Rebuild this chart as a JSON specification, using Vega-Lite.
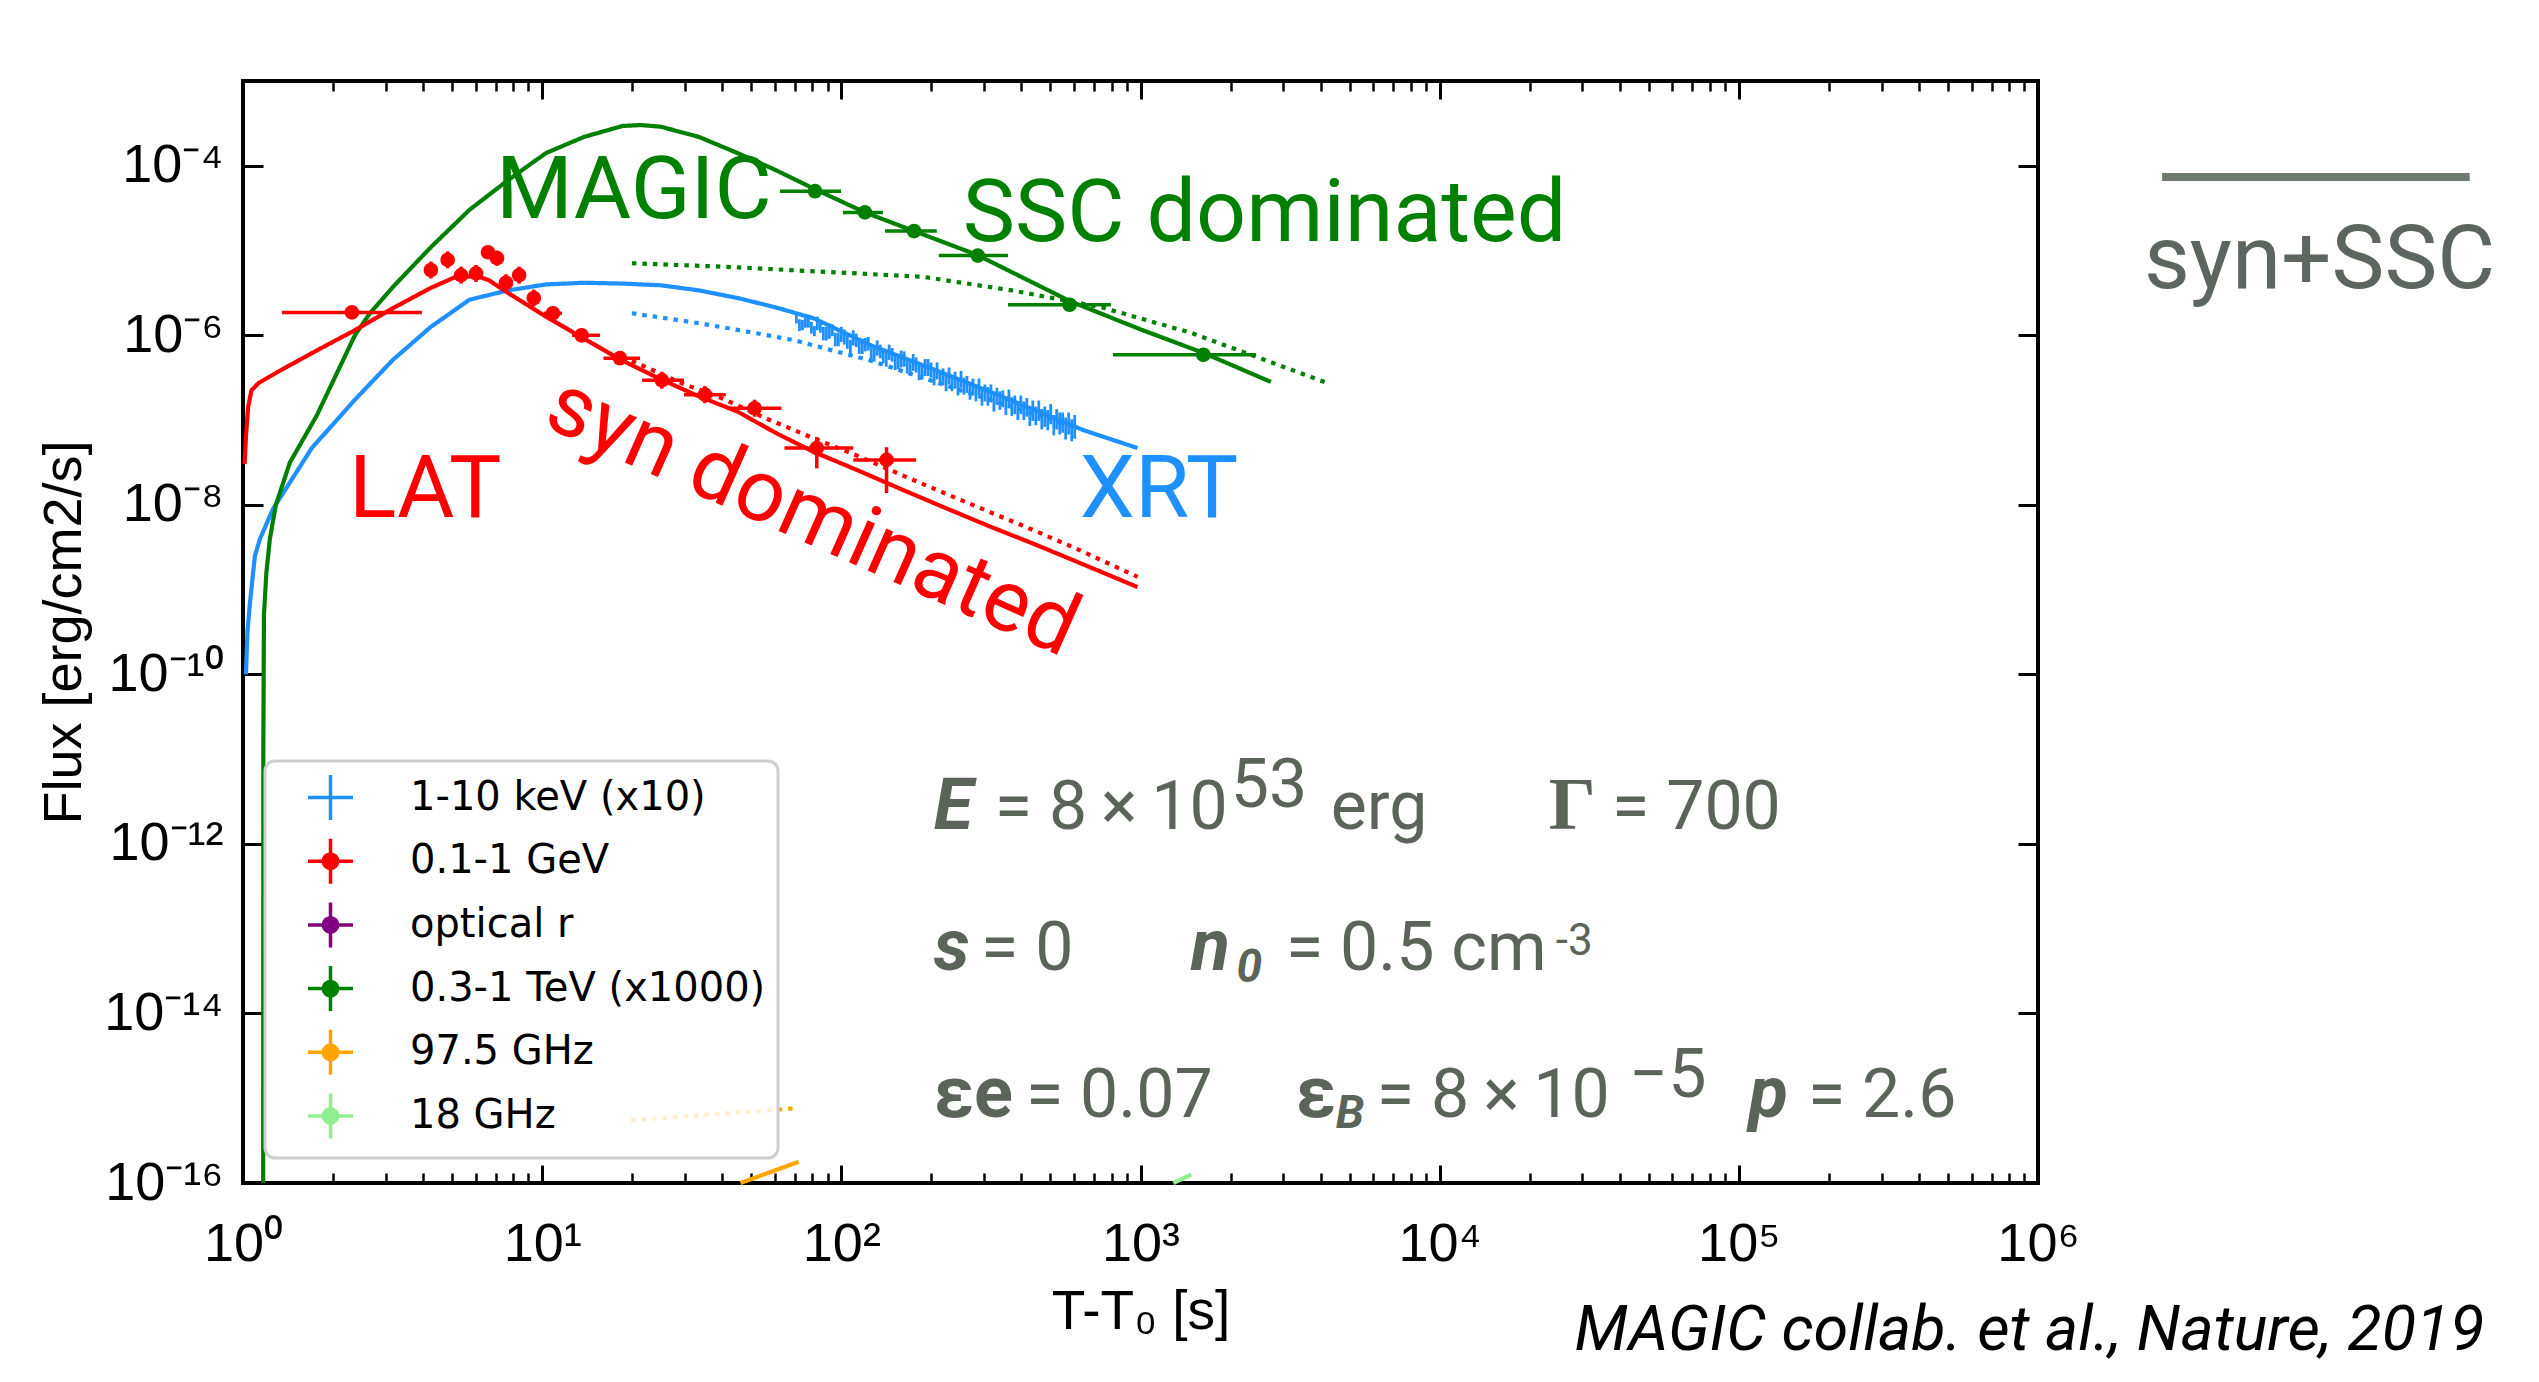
{
"$schema":"https://vega.github.io/schema/vega-lite/v6.json",
"width":1795,"height":1102,
"autosize":{"type":"none"},
"padding":{"left":243,"top":81,"right":501,"bottom":199},
"background":"white",
"config":{"view":{"stroke":"black","strokeWidth":4},"font":"Roboto"},
"resolve":{"axis":{"x":"independent","y":"independent"}},
"datasets":{
"models":[
{"band":"1-10 keV (x10)","curve":"model","t":1.023,"f":1e-10},
{"band":"1-10 keV (x10)","curve":"model","t":1.035,"f":3.162e-10},
{"band":"1-10 keV (x10)","curve":"model","t":1.054,"f":6.761e-10},
{"band":"1-10 keV (x10)","curve":"model","t":1.096,"f":2.512e-9},
{"band":"1-10 keV (x10)","curve":"model","t":1.140,"f":3.981e-9},
{"band":"1-10 keV (x10)","curve":"model","t":1.259,"f":8.913e-9},
{"band":"1-10 keV (x10)","curve":"model","t":1.698,"f":4.677e-8},
{"band":"1-10 keV (x10)","curve":"model","t":2.366,"f":1.738e-7},
{"band":"1-10 keV (x10)","curve":"model","t":3.170,"f":5.129e-7},
{"band":"1-10 keV (x10)","curve":"model","t":4.247,"f":1.259e-6},
{"band":"1-10 keV (x10)","curve":"model","t":5.715,"f":2.630e-6},
{"band":"1-10 keV (x10)","curve":"model","t":7.691,"f":3.388e-6},
{"band":"1-10 keV (x10)","curve":"model","t":10.30,"f":3.981e-6},
{"band":"1-10 keV (x10)","curve":"model","t":13.80,"f":4.169e-6},
{"band":"1-10 keV (x10)","curve":"model","t":18.58,"f":4.074e-6},
{"band":"1-10 keV (x10)","curve":"model","t":24.95,"f":3.890e-6},
{"band":"1-10 keV (x10)","curve":"model","t":33.42,"f":3.388e-6},
{"band":"1-10 keV (x10)","curve":"model","t":44.98,"f":2.754e-6},
{"band":"1-10 keV (x10)","curve":"model","t":60.26,"f":2.138e-6},
{"band":"1-10 keV (x10)","curve":"model","t":80.91,"f":1.585e-6},
{"band":"1-10 keV (x10)","curve":"model","t":125.9,"f":7.586e-7},
{"band":"1-10 keV (x10)","curve":"model","t":199.5,"f":4.074e-7},
{"band":"1-10 keV (x10)","curve":"model","t":316.2,"f":2.138e-7},
{"band":"1-10 keV (x10)","curve":"model","t":501.2,"f":1.096e-7},
{"band":"1-10 keV (x10)","curve":"model","t":645.7,"f":7.586e-8},
{"band":"1-10 keV (x10)","curve":"model","t":977.2,"f":4.677e-8},
{"band":"1-10 keV (x10)","curve":"alt","t":19.95,"f":1.820e-6},
{"band":"1-10 keV (x10)","curve":"alt","t":33.88,"f":1.380e-6},
{"band":"1-10 keV (x10)","curve":"alt","t":56.89,"f":1.0e-6},
{"band":"1-10 keV (x10)","curve":"alt","t":69.98,"f":8.710e-7},
{"band":"1-10 keV (x10)","curve":"alt","t":125.9,"f":5.012e-7},
{"band":"1-10 keV (x10)","curve":"alt","t":251.2,"f":2.239e-7},
{"band":"1-10 keV (x10)","curve":"alt","t":562.3,"f":8.913e-8},
{"band":"0.3-1 TeV (x1000)","curve":"model","t":1.168,"f":1e-16},
{"band":"0.3-1 TeV (x1000)","curve":"model","t":1.169,"f":1e-11},
{"band":"0.3-1 TeV (x1000)","curve":"model","t":1.175,"f":5.012e-10},
{"band":"0.3-1 TeV (x1000)","curve":"model","t":1.197,"f":1.585e-9},
{"band":"0.3-1 TeV (x1000)","curve":"model","t":1.230,"f":3.981e-9},
{"band":"0.3-1 TeV (x1000)","curve":"model","t":1.288,"f":1e-8},
{"band":"0.3-1 TeV (x1000)","curve":"model","t":1.435,"f":3.162e-8},
{"band":"0.3-1 TeV (x1000)","curve":"model","t":1.762,"f":1.122e-7},
{"band":"0.3-1 TeV (x1000)","curve":"model","t":2.366,"f":1e-6},
{"band":"0.3-1 TeV (x1000)","curve":"model","t":2.655,"f":1.820e-6},
{"band":"0.3-1 TeV (x1000)","curve":"model","t":3.170,"f":3.715e-6},
{"band":"0.3-1 TeV (x1000)","curve":"model","t":4.247,"f":1.096e-5},
{"band":"0.3-1 TeV (x1000)","curve":"model","t":5.715,"f":3.020e-5},
{"band":"0.3-1 TeV (x1000)","curve":"model","t":7.691,"f":6.761e-5},
{"band":"0.3-1 TeV (x1000)","curve":"model","t":10.30,"f":1.413e-4},
{"band":"0.3-1 TeV (x1000)","curve":"model","t":13.80,"f":2.188e-4},
{"band":"0.3-1 TeV (x1000)","curve":"model","t":18.58,"f":2.951e-4},
{"band":"0.3-1 TeV (x1000)","curve":"model","t":21.38,"f":3.020e-4},
{"band":"0.3-1 TeV (x1000)","curve":"model","t":24.95,"f":2.884e-4},
{"band":"0.3-1 TeV (x1000)","curve":"model","t":33.42,"f":2.188e-4},
{"band":"0.3-1 TeV (x1000)","curve":"model","t":44.98,"f":1.413e-4},
{"band":"0.3-1 TeV (x1000)","curve":"model","t":60.26,"f":8.913e-5},
{"band":"0.3-1 TeV (x1000)","curve":"model","t":80.91,"f":5.370e-5},
{"band":"0.3-1 TeV (x1000)","curve":"model","t":119.9,"f":2.818e-5},
{"band":"0.3-1 TeV (x1000)","curve":"model","t":175.0,"f":1.698e-5},
{"band":"0.3-1 TeV (x1000)","curve":"model","t":283.8,"f":8.913e-6},
{"band":"0.3-1 TeV (x1000)","curve":"model","t":583.4,"f":2.512e-6},
{"band":"0.3-1 TeV (x1000)","curve":"model","t":1000,"f":1.175e-6},
{"band":"0.3-1 TeV (x1000)","curve":"model","t":1629,"f":6.166e-7},
{"band":"0.3-1 TeV (x1000)","curve":"model","t":2729,"f":2.818e-7},
{"band":"0.3-1 TeV (x1000)","curve":"alt","t":19.95,"f":7.079e-6},
{"band":"0.3-1 TeV (x1000)","curve":"alt","t":39.81,"f":6.457e-6},
{"band":"0.3-1 TeV (x1000)","curve":"alt","t":98.86,"f":5.495e-6},
{"band":"0.3-1 TeV (x1000)","curve":"alt","t":187.5,"f":4.898e-6},
{"band":"0.3-1 TeV (x1000)","curve":"alt","t":371.5,"f":3.388e-6},
{"band":"0.3-1 TeV (x1000)","curve":"alt","t":741.3,"f":2.138e-6},
{"band":"0.3-1 TeV (x1000)","curve":"alt","t":1472,"f":1.072e-6},
{"band":"0.3-1 TeV (x1000)","curve":"alt","t":2466,"f":5.495e-7},
{"band":"0.3-1 TeV (x1000)","curve":"alt","t":4266,"f":2.692e-7},
{"band":"0.1-1 GeV","curve":"model","t":1.012,"f":3.020e-8},
{"band":"0.1-1 GeV","curve":"model","t":1.023,"f":6.310e-8},
{"band":"0.1-1 GeV","curve":"model","t":1.040,"f":1.413e-7},
{"band":"0.1-1 GeV","curve":"model","t":1.067,"f":2.239e-7},
{"band":"0.1-1 GeV","curve":"model","t":1.130,"f":2.754e-7},
{"band":"0.1-1 GeV","curve":"model","t":1.309,"f":3.715e-7},
{"band":"0.1-1 GeV","curve":"model","t":1.762,"f":6.607e-7},
{"band":"0.1-1 GeV","curve":"model","t":2.366,"f":1.148e-6},
{"band":"0.1-1 GeV","curve":"model","t":3.170,"f":2.089e-6},
{"band":"0.1-1 GeV","curve":"model","t":4.247,"f":3.631e-6},
{"band":"0.1-1 GeV","curve":"model","t":5.070,"f":4.786e-6},
{"band":"0.1-1 GeV","curve":"model","t":6.026,"f":5.012e-6},
{"band":"0.1-1 GeV","curve":"model","t":6.637,"f":4.467e-6},
{"band":"0.1-1 GeV","curve":"model","t":7.691,"f":3.162e-6},
{"band":"0.1-1 GeV","curve":"model","t":10.19,"f":1.698e-6},
{"band":"0.1-1 GeV","curve":"model","t":13.80,"f":9.120e-7},
{"band":"0.1-1 GeV","curve":"model","t":18.58,"f":5.012e-7},
{"band":"0.1-1 GeV","curve":"model","t":24.95,"f":3.020e-7},
{"band":"0.1-1 GeV","curve":"model","t":33.42,"f":1.905e-7},
{"band":"0.1-1 GeV","curve":"model","t":44.98,"f":1.259e-7},
{"band":"0.1-1 GeV","curve":"model","t":60.26,"f":7.079e-8},
{"band":"0.1-1 GeV","curve":"model","t":80.17,"f":4.266e-8},
{"band":"0.1-1 GeV","curve":"model","t":113.0,"f":2.570e-8},
{"band":"0.1-1 GeV","curve":"model","t":159.6,"f":1.514e-8},
{"band":"0.1-1 GeV","curve":"model","t":223.9,"f":9.120e-9},
{"band":"0.1-1 GeV","curve":"model","t":316.2,"f":5.495e-9},
{"band":"0.1-1 GeV","curve":"model","t":446.7,"f":3.388e-9},
{"band":"0.1-1 GeV","curve":"model","t":631.0,"f":2.042e-9},
{"band":"0.1-1 GeV","curve":"model","t":977.2,"f":1.072e-9},
{"band":"0.1-1 GeV","curve":"alt","t":19.95,"f":5.012e-7},
{"band":"0.1-1 GeV","curve":"alt","t":28.58,"f":2.818e-7},
{"band":"0.1-1 GeV","curve":"alt","t":40.27,"f":1.778e-7},
{"band":"0.1-1 GeV","curve":"alt","t":56.89,"f":1.023e-7},
{"band":"0.1-1 GeV","curve":"alt","t":80.17,"f":6.166e-8},
{"band":"0.1-1 GeV","curve":"alt","t":113.0,"f":3.802e-8},
{"band":"0.1-1 GeV","curve":"alt","t":159.6,"f":2.239e-8},
{"band":"0.1-1 GeV","curve":"alt","t":223.9,"f":1.349e-8},
{"band":"0.1-1 GeV","curve":"alt","t":316.2,"f":8.128e-9},
{"band":"0.1-1 GeV","curve":"alt","t":446.7,"f":4.898e-9},
{"band":"0.1-1 GeV","curve":"alt","t":631.0,"f":2.884e-9},
{"band":"0.1-1 GeV","curve":"alt","t":977.2,"f":1.413e-9},
{"band":"97.5 GHz","curve":"model","t":46.03,"f":1e-16},
{"band":"97.5 GHz","curve":"model","t":71.94,"f":1.778e-16},
{"band":"97.5 GHz","curve":"alt","t":19.82,"f":5.495e-16},
{"band":"97.5 GHz","curve":"alt","t":69.50,"f":7.586e-16},
{"band":"18 GHz","curve":"model","t":1288,"f":1e-16},
{"band":"18 GHz","curve":"model","t":1479,"f":1.259e-16}
],
"points":[
{"band":"0.1-1 GeV","t":2.312,"f":1.862e-6,"t_lo":1.349,"t_hi":3.963,"f_lo":1.585e-6,"f_hi":2.188e-6},
{"band":"0.1-1 GeV","t":4.247,"f":5.888e-6,"t_lo":4.055,"t_hi":4.446,"f_lo":4.677e-6,"f_hi":7.413e-6},
{"band":"0.1-1 GeV","t":4.831,"f":7.762e-6,"t_lo":4.613,"t_hi":5.058,"f_lo":6.166e-6,"f_hi":9.772e-6},
{"band":"0.1-1 GeV","t":5.358,"f":5.129e-6,"t_lo":5.117,"t_hi":5.610,"f_lo":4.074e-6,"f_hi":6.457e-6},
{"band":"0.1-1 GeV","t":6.012,"f":5.370e-6,"t_lo":5.741,"t_hi":6.295,"f_lo":4.266e-6,"f_hi":6.761e-6},
{"band":"0.1-1 GeV","t":6.592,"f":9.550e-6,"t_lo":6.295,"t_hi":6.902,"f_lo":7.943e-6,"f_hi":1.148e-5},
{"band":"0.1-1 GeV","t":7.063,"f":8.128e-6,"t_lo":6.745,"t_hi":7.396,"f_lo":6.607e-6,"f_hi":1.0e-5},
{"band":"0.1-1 GeV","t":7.568,"f":4.169e-6,"t_lo":7.228,"t_hi":7.925,"f_lo":3.311e-6,"f_hi":5.248e-6},
{"band":"0.1-1 GeV","t":8.375,"f":5.129e-6,"t_lo":7.998,"t_hi":8.770,"f_lo":4.074e-6,"f_hi":6.457e-6},
{"band":"0.1-1 GeV","t":9.376,"f":2.754e-6,"t_lo":8.954,"t_hi":9.817,"f_lo":2.188e-6,"f_hi":3.467e-6},
{"band":"0.1-1 GeV","t":10.86,"f":1.820e-6,"t_lo":10.14,"t_hi":11.64,"f_lo":1.514e-6,"f_hi":2.188e-6},
{"band":"0.1-1 GeV","t":13.55,"f":1.0e-6,"t_lo":12.59,"t_hi":15.60,"f_lo":8.318e-7,"f_hi":1.202e-6},
{"band":"0.1-1 GeV","t":18.20,"f":5.370e-7,"t_lo":16.03,"t_hi":21.23,"f_lo":4.467e-7,"f_hi":6.457e-7},
{"band":"0.1-1 GeV","t":25.12,"f":2.951e-7,"t_lo":21.58,"t_hi":29.79,"f_lo":2.344e-7,"f_hi":3.715e-7},
{"band":"0.1-1 GeV","t":34.99,"f":1.995e-7,"t_lo":29.79,"t_hi":41.11,"f_lo":1.585e-7,"f_hi":2.512e-7},
{"band":"0.1-1 GeV","t":51.29,"f":1.380e-7,"t_lo":41.69,"t_hi":63.10,"f_lo":1.096e-7,"f_hi":1.738e-7},
{"band":"0.1-1 GeV","t":82.79,"f":4.677e-8,"t_lo":64.57,"t_hi":109.6,"f_lo":2.692e-8,"f_hi":6.310e-8},
{"band":"0.1-1 GeV","t":141.6,"f":3.388e-8,"t_lo":109.6,"t_hi":177.8,"f_lo":1.380e-8,"f_hi":4.786e-8},
{"band":"0.3-1 TeV (x1000)","t":81.66,"f":5.012e-5,"t_lo":62.37,"t_hi":99.77,"f_lo":4.467e-5,"f_hi":5.623e-5},
{"band":"0.3-1 TeV (x1000)","t":119.9,"f":2.818e-5,"t_lo":101.2,"t_hi":137.7,"f_lo":2.512e-5,"f_hi":3.162e-5},
{"band":"0.3-1 TeV (x1000)","t":175.0,"f":1.698e-5,"t_lo":140.0,"t_hi":208.4,"f_lo":1.514e-5,"f_hi":1.905e-5},
{"band":"0.3-1 TeV (x1000)","t":285.8,"f":8.710e-6,"t_lo":211.8,"t_hi":360.6,"f_lo":7.762e-6,"f_hi":9.772e-6},
{"band":"0.3-1 TeV (x1000)","t":579.4,"f":2.291e-6,"t_lo":360.6,"t_hi":796.2,"f_lo":1.995e-6,"f_hi":2.630e-6},
{"band":"0.3-1 TeV (x1000)","t":1622,"f":5.888e-7,"t_lo":809.1,"t_hi":2432,"f_lo":5.012e-7,"f_hi":6.918e-7}
],
"xrt":[
{"band":"1-10 keV (x10)","t":70.79,"f_lo":1.380e-6,"f_hi":1.820e-6},
{"band":"1-10 keV (x10)","t":72.44,"f_lo":1.122e-6,"f_hi":1.549e-6},
{"band":"1-10 keV (x10)","t":74.13,"f_lo":1.148e-6,"f_hi":1.514e-6},
{"band":"1-10 keV (x10)","t":75.86,"f_lo":1.230e-6,"f_hi":1.778e-6},
{"band":"1-10 keV (x10)","t":77.62,"f_lo":1.230e-6,"f_hi":1.698e-6},
{"band":"1-10 keV (x10)","t":79.43,"f_lo":1.047e-6,"f_hi":1.445e-6},
{"band":"1-10 keV (x10)","t":81.28,"f_lo":9.772e-7,"f_hi":1.288e-6},
{"band":"1-10 keV (x10)","t":83.18,"f_lo":1.148e-6,"f_hi":1.660e-6},
{"band":"1-10 keV (x10)","t":85.11,"f_lo":1.072e-6,"f_hi":1.479e-6},
{"band":"1-10 keV (x10)","t":87.10,"f_lo":8.710e-7,"f_hi":1.259e-6},
{"band":"1-10 keV (x10)","t":89.13,"f_lo":8.710e-7,"f_hi":1.259e-6},
{"band":"1-10 keV (x10)","t":91.20,"f_lo":9.120e-7,"f_hi":1.380e-6},
{"band":"1-10 keV (x10)","t":93.33,"f_lo":9.772e-7,"f_hi":1.349e-6},
{"band":"1-10 keV (x10)","t":95.50,"f_lo":7.413e-7,"f_hi":1.072e-6},
{"band":"1-10 keV (x10)","t":97.72,"f_lo":7.413e-7,"f_hi":1.072e-6},
{"band":"1-10 keV (x10)","t":100.0,"f_lo":8.318e-7,"f_hi":1.259e-6},
{"band":"1-10 keV (x10)","t":102.3,"f_lo":7.762e-7,"f_hi":1.175e-6},
{"band":"1-10 keV (x10)","t":104.7,"f_lo":6.918e-7,"f_hi":1.000e-6},
{"band":"1-10 keV (x10)","t":107.2,"f_lo":6.166e-7,"f_hi":8.913e-7},
{"band":"1-10 keV (x10)","t":109.6,"f_lo":7.586e-7,"f_hi":1.148e-6},
{"band":"1-10 keV (x10)","t":112.2,"f_lo":7.244e-7,"f_hi":1.047e-6},
{"band":"1-10 keV (x10)","t":114.8,"f_lo":6.026e-7,"f_hi":9.120e-7},
{"band":"1-10 keV (x10)","t":117.5,"f_lo":6.026e-7,"f_hi":9.120e-7},
{"band":"1-10 keV (x10)","t":120.2,"f_lo":6.457e-7,"f_hi":9.333e-7},
{"band":"1-10 keV (x10)","t":123.0,"f_lo":6.607e-7,"f_hi":9.550e-7},
{"band":"1-10 keV (x10)","t":125.9,"f_lo":4.786e-7,"f_hi":7.244e-7},
{"band":"1-10 keV (x10)","t":128.8,"f_lo":4.898e-7,"f_hi":7.413e-7},
{"band":"1-10 keV (x10)","t":131.8,"f_lo":5.754e-7,"f_hi":8.710e-7},
{"band":"1-10 keV (x10)","t":134.9,"f_lo":5.370e-7,"f_hi":7.762e-7},
{"band":"1-10 keV (x10)","t":138.0,"f_lo":4.677e-7,"f_hi":7.079e-7},
{"band":"1-10 keV (x10)","t":141.3,"f_lo":4.266e-7,"f_hi":6.457e-7},
{"band":"1-10 keV (x10)","t":144.5,"f_lo":5.129e-7,"f_hi":7.762e-7},
{"band":"1-10 keV (x10)","t":147.9,"f_lo":4.898e-7,"f_hi":7.079e-7},
{"band":"1-10 keV (x10)","t":151.4,"f_lo":3.890e-7,"f_hi":5.888e-7},
{"band":"1-10 keV (x10)","t":154.9,"f_lo":3.981e-7,"f_hi":6.026e-7},
{"band":"1-10 keV (x10)","t":158.5,"f_lo":4.169e-7,"f_hi":6.607e-7},
{"band":"1-10 keV (x10)","t":162.2,"f_lo":4.266e-7,"f_hi":6.457e-7},
{"band":"1-10 keV (x10)","t":166.0,"f_lo":3.548e-7,"f_hi":5.370e-7},
{"band":"1-10 keV (x10)","t":169.8,"f_lo":3.388e-7,"f_hi":4.898e-7},
{"band":"1-10 keV (x10)","t":173.8,"f_lo":3.802e-7,"f_hi":6.026e-7},
{"band":"1-10 keV (x10)","t":177.8,"f_lo":3.631e-7,"f_hi":5.495e-7},
{"band":"1-10 keV (x10)","t":182.0,"f_lo":2.951e-7,"f_hi":4.467e-7},
{"band":"1-10 keV (x10)","t":186.2,"f_lo":3.020e-7,"f_hi":4.571e-7},
{"band":"1-10 keV (x10)","t":190.5,"f_lo":3.311e-7,"f_hi":5.248e-7},
{"band":"1-10 keV (x10)","t":195.0,"f_lo":3.311e-7,"f_hi":5.248e-7},
{"band":"1-10 keV (x10)","t":199.5,"f_lo":3.162e-7,"f_hi":4.786e-7},
{"band":"1-10 keV (x10)","t":204.2,"f_lo":2.570e-7,"f_hi":3.890e-7},
{"band":"1-10 keV (x10)","t":208.9,"f_lo":3.020e-7,"f_hi":4.786e-7},
{"band":"1-10 keV (x10)","t":213.8,"f_lo":2.570e-7,"f_hi":3.890e-7},
{"band":"1-10 keV (x10)","t":218.8,"f_lo":2.570e-7,"f_hi":4.074e-7},
{"band":"1-10 keV (x10)","t":223.9,"f_lo":2.188e-7,"f_hi":3.311e-7},
{"band":"1-10 keV (x10)","t":229.1,"f_lo":2.630e-7,"f_hi":4.169e-7},
{"band":"1-10 keV (x10)","t":234.4,"f_lo":2.188e-7,"f_hi":3.311e-7},
{"band":"1-10 keV (x10)","t":239.9,"f_lo":2.344e-7,"f_hi":3.715e-7},
{"band":"1-10 keV (x10)","t":245.5,"f_lo":1.950e-7,"f_hi":2.951e-7},
{"band":"1-10 keV (x10)","t":251.2,"f_lo":2.399e-7,"f_hi":3.802e-7},
{"band":"1-10 keV (x10)","t":257.0,"f_lo":1.995e-7,"f_hi":3.162e-7},
{"band":"1-10 keV (x10)","t":263.0,"f_lo":2.089e-7,"f_hi":3.311e-7},
{"band":"1-10 keV (x10)","t":269.2,"f_lo":1.738e-7,"f_hi":2.754e-7},
{"band":"1-10 keV (x10)","t":275.4,"f_lo":1.950e-7,"f_hi":3.090e-7},
{"band":"1-10 keV (x10)","t":281.8,"f_lo":1.660e-7,"f_hi":2.630e-7},
{"band":"1-10 keV (x10)","t":288.4,"f_lo":1.950e-7,"f_hi":3.090e-7},
{"band":"1-10 keV (x10)","t":295.1,"f_lo":1.479e-7,"f_hi":2.344e-7},
{"band":"1-10 keV (x10)","t":302.0,"f_lo":1.660e-7,"f_hi":2.630e-7},
{"band":"1-10 keV (x10)","t":309.0,"f_lo":1.479e-7,"f_hi":2.455e-7},
{"band":"1-10 keV (x10)","t":316.2,"f_lo":1.660e-7,"f_hi":2.630e-7},
{"band":"1-10 keV (x10)","t":323.6,"f_lo":1.259e-7,"f_hi":2.089e-7},
{"band":"1-10 keV (x10)","t":331.1,"f_lo":1.514e-7,"f_hi":2.399e-7},
{"band":"1-10 keV (x10)","t":338.8,"f_lo":1.318e-7,"f_hi":2.188e-7},
{"band":"1-10 keV (x10)","t":346.7,"f_lo":1.413e-7,"f_hi":2.239e-7},
{"band":"1-10 keV (x10)","t":354.8,"f_lo":1.148e-7,"f_hi":1.905e-7},
{"band":"1-10 keV (x10)","t":363.1,"f_lo":1.380e-7,"f_hi":2.291e-7},
{"band":"1-10 keV (x10)","t":371.5,"f_lo":1.122e-7,"f_hi":1.862e-7},
{"band":"1-10 keV (x10)","t":380.2,"f_lo":1.175e-7,"f_hi":1.950e-7},
{"band":"1-10 keV (x10)","t":389.0,"f_lo":1.000e-7,"f_hi":1.660e-7},
{"band":"1-10 keV (x10)","t":398.1,"f_lo":1.175e-7,"f_hi":1.950e-7},
{"band":"1-10 keV (x10)","t":407.4,"f_lo":1.000e-7,"f_hi":1.660e-7},
{"band":"1-10 keV (x10)","t":416.9,"f_lo":1.096e-7,"f_hi":1.820e-7},
{"band":"1-10 keV (x10)","t":426.6,"f_lo":8.511e-8,"f_hi":1.413e-7},
{"band":"1-10 keV (x10)","t":436.5,"f_lo":9.772e-8,"f_hi":1.698e-7},
{"band":"1-10 keV (x10)","t":446.7,"f_lo":8.710e-8,"f_hi":1.445e-7},
{"band":"1-10 keV (x10)","t":457.1,"f_lo":9.772e-8,"f_hi":1.698e-7},
{"band":"1-10 keV (x10)","t":467.7,"f_lo":7.762e-8,"f_hi":1.349e-7},
{"band":"1-10 keV (x10)","t":478.6,"f_lo":8.318e-8,"f_hi":1.445e-7},
{"band":"1-10 keV (x10)","t":489.8,"f_lo":7.586e-8,"f_hi":1.318e-7},
{"band":"1-10 keV (x10)","t":501.2,"f_lo":8.913e-8,"f_hi":1.549e-7},
{"band":"1-10 keV (x10)","t":512.9,"f_lo":6.607e-8,"f_hi":1.148e-7},
{"band":"1-10 keV (x10)","t":524.8,"f_lo":7.762e-8,"f_hi":1.349e-7},
{"band":"1-10 keV (x10)","t":537.0,"f_lo":6.761e-8,"f_hi":1.230e-7},
{"band":"1-10 keV (x10)","t":549.5,"f_lo":7.079e-8,"f_hi":1.230e-7},
{"band":"1-10 keV (x10)","t":562.3,"f_lo":5.888e-8,"f_hi":1.072e-7},
{"band":"1-10 keV (x10)","t":575.4,"f_lo":6.761e-8,"f_hi":1.230e-7},
{"band":"1-10 keV (x10)","t":588.8,"f_lo":5.623e-8,"f_hi":1.023e-7},
{"band":"1-10 keV (x10)","t":602.6,"f_lo":6.026e-8,"f_hi":1.148e-7}
]
},
"layer":[
{"data":{"name":"models"},
 "mark":{"type":"line","strokeWidth":4.2,"strokeCap":"butt"},
 "encoding":{
  "x":{"field":"t","type":"quantitative","scale":{"type":"log","domain":[1,1000000],"nice":false},
   "axis":{"orient":"bottom","values":[1,10,100,1000,10000,100000,1000000],
    "labelExpr":"'10' + substring('⁰¹²³⁴⁵⁶⁷⁸⁹', round(log(datum.value)/LN10), round(log(datum.value)/LN10)+1)",
    "tickSize":-18,"tickWidth":3,"tickColor":"black","domain":false,"grid":false,
    "labelFont":"Liberation Sans","labelFontSize":54,"labelColor":"black","labelPadding":52,"labelFlush":false,"labelOverlap":false,
    "title":"T-T₀ [s]","titleFont":"Liberation Sans","titleFontSize":55,"titleFontWeight":"normal","titleColor":"black","titlePadding":14}},
  "y":{"field":"f","type":"quantitative","scale":{"type":"log","domain":[1e-16,1e-3],"nice":false},
   "axis":{"orient":"left","values":[1e-16,1e-14,1e-12,1e-10,1e-8,1e-6,1e-4],
    "labelExpr":"'10⁻' + (round(-log(datum.value)/LN10) >= 10 ? '¹' : '') + substring('⁰¹²³⁴⁵⁶⁷⁸⁹', round(-log(datum.value)/LN10) % 10, round(-log(datum.value)/LN10) % 10 + 1)",
    "tickSize":-20,"tickWidth":3,"tickColor":"black","domain":false,"grid":false,
    "labelFont":"Liberation Sans","labelFontSize":54,"labelColor":"black","labelPadding":40,"labelOverlap":false,"labelFlush":false,
    "title":"Flux [erg/cm2/s]","titleFont":"Liberation Sans","titleFontSize":54,"titleFontWeight":"normal","titleColor":"black","titlePadding":12}},
  "stroke":{"field":"band","type":"nominal","scale":{"domain":["1-10 keV (x10)","0.1-1 GeV","0.3-1 TeV (x1000)","97.5 GHz","18 GHz"],"range":["#1e90ff","#ff0000","#008000","#ffa500","#90ee90"]},"legend":null},
  "strokeDash":{"field":"curve","type":"nominal","scale":{"domain":["model","alt"],"range":[[1,0],[4.5,6]]},"legend":null}
 }},
{"data":{"name":"xrt"},
 "mark":{"type":"rule","strokeWidth":2.8},
 "encoding":{
  "x":{"field":"t","type":"quantitative","scale":{"type":"log","domain":[1,1000000],"nice":false},
   "axis":{"orient":"bottom","values":[2,3,4,5,6,7,8,9,20,30,40,50,60,70,80,90,200,300,400,500,600,700,800,900,2000,3000,4000,5000,6000,7000,8000,9000,20000,30000,40000,50000,60000,70000,80000,90000,200000,300000,400000,500000,600000,700000,800000,900000],
    "labels":false,"tickSize":-10,"tickWidth":2.5,"tickColor":"black","domain":false,"grid":false,"title":null}},
  "y":{"field":"f_lo","type":"quantitative","scale":{"type":"log","domain":[1e-16,1e-3],"nice":false},
   "axis":{"orient":"right","values":[1e-16,1e-14,1e-12,1e-10,1e-8,1e-6,1e-4],"labels":false,"tickSize":-20,"tickWidth":3,"tickColor":"black","domain":false,"grid":false,"title":null}},
  "y2":{"field":"f_hi"},
  "stroke":{"field":"band","type":"nominal","scale":{"domain":["1-10 keV (x10)","0.1-1 GeV","0.3-1 TeV (x1000)","97.5 GHz","18 GHz"],"range":["#1e90ff","#ff0000","#008000","#ffa500","#90ee90"]},"legend":null}
 }},
{"data":{"name":"points"},
 "mark":{"type":"rule","strokeWidth":3.5},
 "encoding":{
  "x":{"field":"t_lo","type":"quantitative","scale":{"type":"log","domain":[1,1000000],"nice":false},
   "axis":{"orient":"top","values":[1,10,100,1000,10000,100000,1000000],"labels":false,"tickSize":-18,"tickWidth":3,"tickColor":"black","domain":false,"grid":false,"title":null}},
  "x2":{"field":"t_hi"},
  "y":{"field":"f","type":"quantitative","scale":{"type":"log","domain":[1e-16,1e-3],"nice":false},"axis":null},
  "stroke":{"field":"band","type":"nominal","scale":{"domain":["1-10 keV (x10)","0.1-1 GeV","0.3-1 TeV (x1000)","97.5 GHz","18 GHz"],"range":["#1e90ff","#ff0000","#008000","#ffa500","#90ee90"]},"legend":null}
 }},
{"data":{"name":"points"},
 "mark":{"type":"rule","strokeWidth":3.5},
 "encoding":{
  "x":{"field":"t","type":"quantitative","scale":{"type":"log","domain":[1,1000000],"nice":false},
   "axis":{"orient":"top","values":[2,3,4,5,6,7,8,9,20,30,40,50,60,70,80,90,200,300,400,500,600,700,800,900,2000,3000,4000,5000,6000,7000,8000,9000,20000,30000,40000,50000,60000,70000,80000,90000,200000,300000,400000,500000,600000,700000,800000,900000],
    "labels":false,"tickSize":-10,"tickWidth":2.5,"tickColor":"black","domain":false,"grid":false,"title":null}},
  "y":{"field":"f_lo","type":"quantitative","scale":{"type":"log","domain":[1e-16,1e-3],"nice":false},"axis":null},
  "y2":{"field":"f_hi"},
  "stroke":{"field":"band","type":"nominal","scale":{"domain":["1-10 keV (x10)","0.1-1 GeV","0.3-1 TeV (x1000)","97.5 GHz","18 GHz"],"range":["#1e90ff","#ff0000","#008000","#ffa500","#90ee90"]},"legend":null}
 }},
{"data":{"name":"points"},
 "mark":{"type":"circle","size":215,"opacity":1},
 "encoding":{
  "x":{"field":"t","type":"quantitative","scale":{"type":"log","domain":[1,1000000],"nice":false},"axis":null},
  "y":{"field":"f","type":"quantitative","scale":{"type":"log","domain":[1e-16,1e-3],"nice":false},"axis":null},
  "color":{"field":"band","type":"nominal","scale":{"domain":["1-10 keV (x10)","0.1-1 GeV","optical r","0.3-1 TeV (x1000)","97.5 GHz","18 GHz"],"range":["#1e90ff","#ff0000","#800080","#008000","#ffa500","#90ee90"]},
   "legend":{"orient":"none","legendX":22,"legendY":680,"title":null,
    "fillColor":"rgba(255,255,255,0.8)","strokeColor":"#cfcfcf","cornerRadius":10,"padding":12,
    "symbolOffset":29,"labelOffset":55,"rowPadding":4.7,"symbolSize":2025,"symbolStrokeWidth":3.5,"symbolOpacity":1,
    "labelFont":"DejaVu Sans","labelFontSize":40,"labelColor":"black","labelLimit":700,
    "encode":{
     "symbols":{"update":{
      "shape":{"signal":"datum.value === '1-10 keV (x10)' ? 'M-1,0H1M0,-1V1' : 'M-1,0H1M0,-1V1M0.32,0A0.32,0.32,0,1,1,-0.32,0A0.32,0.32,0,1,1,0.32,0Z'"},
      "stroke":{"scale":"color","field":"value"},
      "fill":{"scale":"color","field":"value"},
      "strokeWidth":{"value":3.5},
      "opacity":{"value":1}}},
     "legend":{"update":{"strokeWidth":{"value":3}}}}}}
 }},
{"data":{"values":[
  {"label":"MAGIC","band":"0.3-1 TeV (x1000)","t":7.015,"f":2.421e-5},
  {"label":"SSC dominated","band":"0.3-1 TeV (x1000)","t":254.7,"f":1.306e-5},
  {"label":"LAT","band":"0.1-1 GeV","t":2.259,"f":7.244e-9},
  {"label":"XRT","band":"1-10 keV (x10)","t":626.6,"f":7.244e-9}]},
 "mark":{"type":"text","font":"Roboto","fontSize":88,"align":"left","baseline":"alphabetic"},
 "encoding":{
  "x":{"field":"t","type":"quantitative","scale":{"type":"log","domain":[1,1000000],"nice":false},"axis":null},
  "y":{"field":"f","type":"quantitative","scale":{"type":"log","domain":[1e-16,1e-3],"nice":false},"axis":null},
  "text":{"field":"label"},
  "fill":{"field":"band","type":"nominal","scale":{"domain":["1-10 keV (x10)","0.1-1 GeV","0.3-1 TeV (x1000)"],"range":["#1e90ff","#ff0000","#008000"]},"legend":null}
 }},
{"data":{"values":[{"label":"syn dominated","band":"0.1-1 GeV","t":9.908,"f":8.750e-8}]},
 "mark":{"type":"text","font":"Roboto","fontSize":87,"align":"left","baseline":"alphabetic","angle":24},
 "encoding":{
  "x":{"field":"t","type":"quantitative","scale":{"type":"log","domain":[1,1000000],"nice":false},"axis":null},
  "y":{"field":"f","type":"quantitative","scale":{"type":"log","domain":[1e-16,1e-3],"nice":false},"axis":null},
  "text":{"field":"label"},
  "fill":{"field":"band","type":"nominal","scale":{"domain":["1-10 keV (x10)","0.1-1 GeV","0.3-1 TeV (x1000)"],"range":["#1e90ff","#ff0000","#008000"]},"legend":null}
 }},
{"data":{"values":[{"t":2.600e6,"t2":2.773e7,"f":7.362e-5}]},
 "mark":{"type":"rule","color":"#6f7a70","strokeWidth":8},
 "encoding":{
  "x":{"field":"t","type":"quantitative","scale":{"type":"log","domain":[1,1000000],"nice":false},"axis":null},
  "x2":{"field":"t2"},
  "y":{"field":"f","type":"quantitative","scale":{"type":"log","domain":[1e-16,1e-3],"nice":false},"axis":null}
 }},
{"data":{"values":[{"label":"syn+SSC","t":2.259e6,"f":3.614e-6}]},
 "mark":{"type":"text","font":"Roboto","fontSize":89,"align":"left","baseline":"alphabetic","color":"#5d665e"},
 "encoding":{
  "x":{"field":"t","type":"quantitative","scale":{"type":"log","domain":[1,1000000],"nice":false},"axis":null},
  "y":{"field":"f","type":"quantitative","scale":{"type":"log","domain":[1e-16,1e-3],"nice":false},"axis":null},
  "text":{"field":"label"}
 }},
{"data":{"values":[{"label":"MAGIC collab. et al., Nature, 2019","t":3.112e7,"f":1.072e-18}]},
 "mark":{"type":"text","font":"Roboto","fontSize":63,"fontStyle":"italic","align":"right","baseline":"alphabetic","color":"black"},
 "encoding":{
  "x":{"field":"t","type":"quantitative","scale":{"type":"log","domain":[1,1000000],"nice":false},"axis":null},
  "y":{"field":"f","type":"quantitative","scale":{"type":"log","domain":[1e-16,1e-3],"nice":false},"axis":null},
  "text":{"field":"label"}
 }},
{"data":{"values":[
  {"label":"= 8\u2009×\u200910","t":325.8,"f":1.500e-12},
  {"label":"erg","t":4325,"f":1.500e-12},
  {"label":"= 700","t":37670,"f":1.500e-12},
  {"label":"= 0","t":293.1,"f":3.258e-14},
  {"label":"= 0.5 cm","t":3062,"f":3.258e-14},
  {"label":"= 0.07","t":414.0,"f":6.053e-16},
  {"label":"= 8\u2009×\u200910","t":6166,"f":6.053e-16},
  {"label":"= 2.6","t":170200,"f":6.053e-16}]},
 "mark":{"type":"text","font":"Roboto","fontSize":68,"align":"left","baseline":"alphabetic","color":"#5b6459"},
 "encoding":{
  "x":{"field":"t","type":"quantitative","scale":{"type":"log","domain":[1,1000000],"nice":false},"axis":null},
  "y":{"field":"f","type":"quantitative","scale":{"type":"log","domain":[1e-16,1e-3],"nice":false},"axis":null},
  "text":{"field":"label"}
 }},
{"data":{"values":[
  {"label":"E","t":203.7,"f":1.500e-12},
  {"label":"s","t":203.7,"f":3.258e-14},
  {"label":"n","t":1472,"f":3.258e-14},
  {"label":"p","t":107900,"f":6.053e-16}]},
 "mark":{"type":"text","font":"Roboto","fontSize":72,"fontWeight":"bold","fontStyle":"italic","align":"left","baseline":"alphabetic","color":"#5b6459"},
 "encoding":{
  "x":{"field":"t","type":"quantitative","scale":{"type":"log","domain":[1,1000000],"nice":false},"axis":null},
  "y":{"field":"f","type":"quantitative","scale":{"type":"log","domain":[1e-16,1e-3],"nice":false},"axis":null},
  "text":{"field":"label"}
 }},
{"data":{"values":[
  {"label":"εe","t":203.7,"f":6.053e-16},
  {"label":"ε","t":3304,"f":6.053e-16}]},
 "mark":{"type":"text","font":"Roboto","fontSize":72,"fontWeight":"bold","align":"left","baseline":"alphabetic","color":"#5b6459"},
 "encoding":{
  "x":{"field":"t","type":"quantitative","scale":{"type":"log","domain":[1,1000000],"nice":false},"axis":null},
  "y":{"field":"f","type":"quantitative","scale":{"type":"log","domain":[1e-16,1e-3],"nice":false},"axis":null},
  "text":{"field":"label"}
 }},
{"data":{"values":[{"label":"Γ","t":23170,"f":1.500e-12}]},
 "mark":{"type":"text","font":"Liberation Serif","fontSize":74,"fontWeight":"bold","align":"left","baseline":"alphabetic","color":"#5b6459"},
 "encoding":{
  "x":{"field":"t","type":"quantitative","scale":{"type":"log","domain":[1,1000000],"nice":false},"axis":null},
  "y":{"field":"f","type":"quantitative","scale":{"type":"log","domain":[1e-16,1e-3],"nice":false},"axis":null},
  "text":{"field":"label"}
 }},
{"data":{"values":[
  {"label":"0","t":2094,"f":2.371e-14},
  {"label":"B","t":4498,"f":4.457e-16}]},
 "mark":{"type":"text","font":"Roboto","fontSize":46,"fontWeight":"bold","fontStyle":"italic","align":"left","baseline":"alphabetic","color":"#5b6459"},
 "encoding":{
  "x":{"field":"t","type":"quantitative","scale":{"type":"log","domain":[1,1000000],"nice":false},"axis":null},
  "y":{"field":"f","type":"quantitative","scale":{"type":"log","domain":[1e-16,1e-3],"nice":false},"axis":null},
  "text":{"field":"label"}
 }},
{"data":{"values":[
  {"label":"53","t":2004,"f":2.729e-12},
  {"label":"−5","t":43050,"f":1.042e-15}]},
 "mark":{"type":"text","font":"Roboto","fontSize":68,"align":"left","baseline":"alphabetic","color":"#5b6459"},
 "encoding":{
  "x":{"field":"t","type":"quantitative","scale":{"type":"log","domain":[1,1000000],"nice":false},"axis":null},
  "y":{"field":"f","type":"quantitative","scale":{"type":"log","domain":[1e-16,1e-3],"nice":false},"axis":null},
  "text":{"field":"label"}
 }},
{"data":{"values":[{"label":"-3","t":24430,"f":4.898e-14}]},
 "mark":{"type":"text","font":"Roboto","fontSize":44,"align":"left","baseline":"alphabetic","color":"#5b6459"},
 "encoding":{
  "x":{"field":"t","type":"quantitative","scale":{"type":"log","domain":[1,1000000],"nice":false},"axis":null},
  "y":{"field":"f","type":"quantitative","scale":{"type":"log","domain":[1e-16,1e-3],"nice":false},"axis":null},
  "text":{"field":"label"}
 }}
]
}
